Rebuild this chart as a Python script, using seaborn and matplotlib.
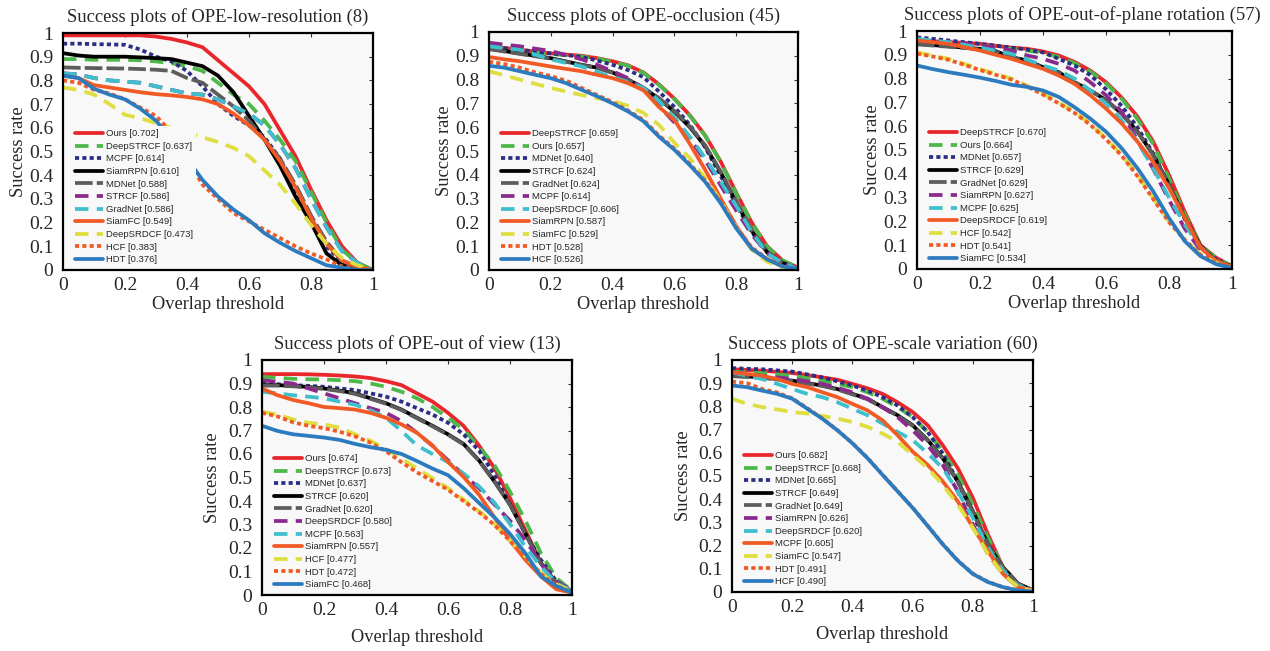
import matplotlib
matplotlib.use("Agg")
import matplotlib.pyplot as plt
import seaborn as sns

sns.set_theme(style="white")
plt.rcParams['font.family'] = ['Liberation Serif', 'DejaVu Serif']

# ---------------- data ----------------
THRESHOLDS = [0.00, 0.05, 0.10, 0.15, 0.20, 0.25, 0.30, 0.35, 0.40, 0.45, 0.50,
              0.55, 0.60, 0.65, 0.70, 0.75, 0.80, 0.85, 0.90, 0.95, 1.00]
Y_TICKS = [0, 0.1, 0.2, 0.3, 0.4, 0.5, 0.6, 0.7, 0.8, 0.9, 1.0]
Y_TICK_LABELS = ['0', '0.1', '0.2', '0.3', '0.4', '0.5', '0.6', '0.7', '0.8', '0.9', '1']
X_TICKS = [0, 0.2, 0.4, 0.6, 0.8, 1.0]
X_TICK_LABELS = ['0', '0.2', '0.4', '0.6', '0.8', '1']

# Panel 1: low-resolution
LR_TITLE = "Success plots of OPE-low-resolution (8)"
LR_NAMES = ["Ours", "DeepSTRCF", "MCPF", "SiamRPN", "MDNet", "STRCF", "GradNet",
            "SiamFC", "DeepSRDCF", "HCF", "HDT"]
LR_SCORES = [0.702, 0.637, 0.614, 0.610, 0.588, 0.586, 0.586, 0.549, 0.473, 0.383, 0.376]
LR_OURS = [0.99, 0.99, 0.99, 0.99, 0.99, 0.99, 0.985, 0.975, 0.96, 0.94, 0.885, 0.83, 0.775, 0.70, 0.59, 0.48, 0.34, 0.21, 0.10, 0.03, 0.0]
LR_DEEPSTRCF = [0.89, 0.89, 0.887, 0.887, 0.887, 0.885, 0.88, 0.873, 0.86, 0.84, 0.79, 0.74, 0.70, 0.63, 0.55, 0.46, 0.33, 0.20, 0.085, 0.03, 0.0]
LR_MCPF = [0.955, 0.955, 0.953, 0.952, 0.95, 0.93, 0.90, 0.88, 0.84, 0.775, 0.70, 0.65, 0.61, 0.56, 0.47, 0.34, 0.20, 0.10, 0.03, 0.01, 0.0]
LR_SIAMRPN = [0.915, 0.905, 0.90, 0.90, 0.90, 0.897, 0.894, 0.89, 0.875, 0.86, 0.82, 0.75, 0.65, 0.55, 0.44, 0.31, 0.20, 0.07, 0.02, 0.01, 0.0]
LR_MDNET = [0.855, 0.853, 0.852, 0.851, 0.85, 0.848, 0.845, 0.84, 0.81, 0.79, 0.74, 0.69, 0.63, 0.55, 0.47, 0.36, 0.23, 0.12, 0.04, 0.01, 0.0]
LR_STRCF = [0.83, 0.825, 0.81, 0.80, 0.795, 0.79, 0.775, 0.76, 0.745, 0.74, 0.72, 0.69, 0.66, 0.61, 0.53, 0.43, 0.30, 0.18, 0.08, 0.03, 0.0]
LR_GRADNET = [0.83, 0.825, 0.81, 0.80, 0.795, 0.79, 0.775, 0.76, 0.745, 0.74, 0.72, 0.69, 0.66, 0.61, 0.53, 0.43, 0.30, 0.18, 0.08, 0.03, 0.0]
LR_SIAMFC = [0.82, 0.81, 0.78, 0.77, 0.76, 0.75, 0.742, 0.737, 0.73, 0.72, 0.70, 0.66, 0.61, 0.55, 0.46, 0.35, 0.22, 0.11, 0.04, 0.015, 0.0]
LR_DEEPSRDCF = [0.77, 0.76, 0.74, 0.70, 0.655, 0.64, 0.62, 0.60, 0.58, 0.56, 0.54, 0.515, 0.48, 0.42, 0.36, 0.28, 0.19, 0.11, 0.05, 0.02, 0.0]
LR_HCF = [0.80, 0.79, 0.76, 0.745, 0.72, 0.685, 0.65, 0.58, 0.47, 0.36, 0.30, 0.24, 0.205, 0.17, 0.135, 0.10, 0.07, 0.045, 0.015, 0.005, 0.0]
LR_HDT = [0.82, 0.81, 0.765, 0.74, 0.72, 0.68, 0.63, 0.55, 0.47, 0.38, 0.31, 0.255, 0.21, 0.155, 0.115, 0.08, 0.05, 0.02, 0.01, 0.0, 0.0]
LR_CURVES = [LR_OURS, LR_DEEPSTRCF, LR_MCPF, LR_SIAMRPN, LR_MDNET, LR_STRCF, LR_GRADNET,
             LR_SIAMFC, LR_DEEPSRDCF, LR_HCF, LR_HDT]

# Panel 2: occlusion
OCC_TITLE = "Success plots of OPE-occlusion (45)"
OCC_NAMES = ["DeepSTRCF", "Ours", "MDNet", "STRCF", "GradNet", "MCPF", "DeepSRDCF",
             "SiamRPN", "SiamFC", "HDT", "HCF"]
OCC_SCORES = [0.659, 0.657, 0.640, 0.624, 0.624, 0.614, 0.606, 0.587, 0.529, 0.528, 0.526]
OCC_DEEPSTRCF = [0.94, 0.933, 0.925, 0.918, 0.91, 0.905, 0.90, 0.89, 0.877, 0.86, 0.83, 0.78, 0.72, 0.65, 0.565, 0.455, 0.325, 0.20, 0.10, 0.04, 0.01]
OCC_OURS = [0.935, 0.928, 0.922, 0.915, 0.908, 0.902, 0.897, 0.888, 0.875, 0.858, 0.828, 0.778, 0.718, 0.648, 0.563, 0.453, 0.323, 0.198, 0.098, 0.04, 0.01]
OCC_MDNET = [0.94, 0.932, 0.925, 0.918, 0.91, 0.903, 0.895, 0.88, 0.862, 0.84, 0.81, 0.75, 0.685, 0.61, 0.515, 0.395, 0.275, 0.16, 0.075, 0.03, 0.005]
OCC_STRCF = [0.93, 0.92, 0.91, 0.90, 0.89, 0.876, 0.862, 0.85, 0.83, 0.80, 0.765, 0.72, 0.665, 0.60, 0.52, 0.41, 0.285, 0.165, 0.075, 0.03, 0.005]
OCC_GRADNET = [0.928, 0.918, 0.908, 0.898, 0.888, 0.875, 0.861, 0.849, 0.829, 0.80, 0.766, 0.722, 0.668, 0.603, 0.523, 0.413, 0.288, 0.168, 0.077, 0.031, 0.005]
OCC_MCPF = [0.955, 0.947, 0.94, 0.93, 0.92, 0.903, 0.885, 0.862, 0.835, 0.806, 0.76, 0.69, 0.62, 0.55, 0.46, 0.355, 0.25, 0.15, 0.07, 0.03, 0.005]
OCC_DEEPSRDCF = [0.94, 0.932, 0.925, 0.905, 0.885, 0.87, 0.855, 0.832, 0.81, 0.79, 0.765, 0.71, 0.64, 0.56, 0.47, 0.37, 0.27, 0.16, 0.07, 0.03, 0.005]
OCC_SIAMRPN = [0.895, 0.885, 0.877, 0.866, 0.855, 0.845, 0.835, 0.82, 0.806, 0.785, 0.755, 0.685, 0.63, 0.53, 0.42, 0.30, 0.185, 0.09, 0.045, 0.015, 0.0]
OCC_SIAMFC = [0.835, 0.818, 0.80, 0.782, 0.765, 0.75, 0.735, 0.722, 0.71, 0.69, 0.66, 0.61, 0.535, 0.47, 0.385, 0.29, 0.18, 0.085, 0.035, 0.01, 0.0]
OCC_HDT = [0.875, 0.865, 0.85, 0.83, 0.815, 0.795, 0.765, 0.735, 0.705, 0.67, 0.63, 0.565, 0.51, 0.445, 0.375, 0.285, 0.18, 0.095, 0.047, 0.016, 0.005]
OCC_HCF = [0.858, 0.85, 0.835, 0.82, 0.806, 0.785, 0.757, 0.73, 0.70, 0.666, 0.625, 0.56, 0.505, 0.44, 0.37, 0.28, 0.175, 0.09, 0.045, 0.015, 0.005]
OCC_CURVES = [OCC_DEEPSTRCF, OCC_OURS, OCC_MDNET, OCC_STRCF, OCC_GRADNET, OCC_MCPF,
              OCC_DEEPSRDCF, OCC_SIAMRPN, OCC_SIAMFC, OCC_HDT, OCC_HCF]

# Panel 3: out-of-plane rotation
OPR_TITLE = "Success plots of OPE-out-of-plane rotation (57)"
OPR_NAMES = ["DeepSTRCF", "Ours", "MDNet", "STRCF", "GradNet", "SiamRPN", "MCPF",
             "DeepSRDCF", "HCF", "HDT", "SiamFC"]
OPR_SCORES = [0.670, 0.664, 0.657, 0.629, 0.629, 0.627, 0.625, 0.619, 0.542, 0.541, 0.534]
OPR_DEEPSTRCF = [0.96, 0.957, 0.953, 0.95, 0.946, 0.938, 0.93, 0.925, 0.914, 0.897, 0.87, 0.834, 0.785, 0.72, 0.64, 0.535, 0.395, 0.24, 0.10, 0.047, 0.012]
OPR_OURS = [0.955, 0.952, 0.948, 0.945, 0.94, 0.933, 0.925, 0.918, 0.908, 0.89, 0.865, 0.83, 0.78, 0.715, 0.63, 0.525, 0.38, 0.23, 0.10, 0.045, 0.012]
OPR_MDNET = [0.973, 0.967, 0.96, 0.953, 0.946, 0.938, 0.93, 0.922, 0.91, 0.883, 0.855, 0.815, 0.755, 0.685, 0.595, 0.485, 0.35, 0.21, 0.09, 0.04, 0.01]
OPR_STRCF = [0.946, 0.941, 0.936, 0.93, 0.925, 0.915, 0.89, 0.876, 0.848, 0.827, 0.785, 0.75, 0.71, 0.653, 0.577, 0.48, 0.354, 0.215, 0.096, 0.033, 0.01]
OPR_GRADNET = [0.944, 0.939, 0.934, 0.929, 0.923, 0.913, 0.888, 0.874, 0.846, 0.825, 0.784, 0.749, 0.709, 0.652, 0.576, 0.479, 0.353, 0.214, 0.095, 0.033, 0.01]
OPR_SIAMRPN = [0.96, 0.956, 0.953, 0.947, 0.94, 0.93, 0.918, 0.897, 0.883, 0.862, 0.834, 0.785, 0.73, 0.66, 0.54, 0.42, 0.29, 0.17, 0.08, 0.027, 0.005]
OPR_MCPF = [0.967, 0.96, 0.953, 0.942, 0.93, 0.917, 0.904, 0.88, 0.855, 0.834, 0.80, 0.75, 0.695, 0.625, 0.535, 0.423, 0.30, 0.187, 0.09, 0.033, 0.01]
OPR_DEEPSRDCF = [0.96, 0.953, 0.946, 0.932, 0.918, 0.90, 0.883, 0.862, 0.841, 0.813, 0.778, 0.73, 0.674, 0.611, 0.535, 0.45, 0.34, 0.215, 0.09, 0.033, 0.01]
OPR_HCF = [0.91, 0.897, 0.883, 0.862, 0.84, 0.82, 0.80, 0.77, 0.737, 0.70, 0.66, 0.61, 0.549, 0.48, 0.395, 0.298, 0.20, 0.124, 0.061, 0.026, 0.005]
OPR_HDT = [0.905, 0.893, 0.879, 0.858, 0.836, 0.816, 0.796, 0.766, 0.733, 0.696, 0.656, 0.606, 0.545, 0.476, 0.39, 0.294, 0.197, 0.122, 0.06, 0.025, 0.005]
OPR_SIAMFC = [0.855, 0.84, 0.827, 0.816, 0.804, 0.79, 0.774, 0.765, 0.75, 0.723, 0.68, 0.632, 0.577, 0.507, 0.423, 0.326, 0.214, 0.117, 0.054, 0.02, 0.005]
OPR_CURVES = [OPR_DEEPSTRCF, OPR_OURS, OPR_MDNET, OPR_STRCF, OPR_GRADNET, OPR_SIAMRPN,
              OPR_MCPF, OPR_DEEPSRDCF, OPR_HCF, OPR_HDT, OPR_SIAMFC]

# Panel 4: out of view
OV_TITLE = "Success plots of OPE-out of view (13)"
OV_NAMES = ["Ours", "DeepSTRCF", "MDNet", "STRCF", "GradNet", "DeepSRDCF", "MCPF",
            "SiamRPN", "HCF", "HDT", "SiamFC"]
OV_SCORES = [0.674, 0.673, 0.637, 0.620, 0.620, 0.580, 0.563, 0.557, 0.477, 0.472, 0.468]
OV_OURS = [0.94, 0.94, 0.94, 0.939, 0.937, 0.934, 0.93, 0.923, 0.91, 0.893, 0.858, 0.823, 0.775, 0.72, 0.636, 0.54, 0.413, 0.274, 0.135, 0.05, 0.017]
OV_DEEPSTRCF = [0.928, 0.924, 0.92, 0.918, 0.917, 0.914, 0.91, 0.90, 0.886, 0.865, 0.837, 0.80, 0.754, 0.705, 0.63, 0.552, 0.44, 0.316, 0.177, 0.072, 0.017]
OV_MDNET = [0.90, 0.897, 0.893, 0.89, 0.886, 0.879, 0.872, 0.858, 0.844, 0.823, 0.795, 0.768, 0.733, 0.684, 0.615, 0.51, 0.385, 0.26, 0.149, 0.058, 0.017]
OV_STRCF = [0.893, 0.893, 0.89, 0.885, 0.879, 0.87, 0.858, 0.837, 0.816, 0.789, 0.754, 0.72, 0.684, 0.643, 0.573, 0.483, 0.385, 0.26, 0.135, 0.05, 0.017]
OV_GRADNET = [0.891, 0.891, 0.888, 0.883, 0.877, 0.868, 0.856, 0.835, 0.814, 0.787, 0.752, 0.718, 0.682, 0.641, 0.571, 0.482, 0.384, 0.259, 0.134, 0.05, 0.017]
OV_DEEPSRDCF = [0.914, 0.907, 0.90, 0.879, 0.858, 0.837, 0.816, 0.795, 0.775, 0.74, 0.69, 0.635, 0.573, 0.51, 0.455, 0.385, 0.316, 0.232, 0.135, 0.058, 0.017]
OV_MCPF = [0.865, 0.858, 0.85, 0.844, 0.837, 0.823, 0.81, 0.786, 0.754, 0.698, 0.636, 0.60, 0.566, 0.517, 0.462, 0.392, 0.302, 0.204, 0.121, 0.05, 0.017]
OV_SIAMRPN = [0.879, 0.85, 0.83, 0.816, 0.80, 0.795, 0.789, 0.775, 0.754, 0.726, 0.69, 0.636, 0.566, 0.503, 0.427, 0.33, 0.232, 0.149, 0.079, 0.024, 0.01]
OV_HCF = [0.78, 0.768, 0.747, 0.733, 0.726, 0.712, 0.684, 0.656, 0.622, 0.58, 0.538, 0.497, 0.455, 0.406, 0.357, 0.302, 0.232, 0.163, 0.093, 0.045, 0.017]
OV_HDT = [0.775, 0.76, 0.735, 0.72, 0.71, 0.695, 0.675, 0.648, 0.612, 0.565, 0.522, 0.485, 0.448, 0.40, 0.352, 0.298, 0.23, 0.16, 0.09, 0.04, 0.012]
OV_SIAMFC = [0.72, 0.698, 0.684, 0.677, 0.67, 0.66, 0.643, 0.629, 0.618, 0.6, 0.57, 0.538, 0.51, 0.455, 0.392, 0.33, 0.26, 0.177, 0.079, 0.038, 0.01]
OV_CURVES = [OV_OURS, OV_DEEPSTRCF, OV_MDNET, OV_STRCF, OV_GRADNET, OV_DEEPSRDCF,
             OV_MCPF, OV_SIAMRPN, OV_HCF, OV_HDT, OV_SIAMFC]

# Panel 5: scale variation
SV_TITLE = "Success plots of OPE-scale variation (60)"
SV_NAMES = ["Ours", "DeepSTRCF", "MDNet", "STRCF", "GradNet", "SiamRPN", "DeepSRDCF",
            "MCPF", "SiamFC", "HDT", "HCF"]
SV_SCORES = [0.682, 0.668, 0.665, 0.649, 0.649, 0.626, 0.620, 0.605, 0.547, 0.491, 0.490]
SV_OURS = [0.96, 0.957, 0.954, 0.949, 0.944, 0.935, 0.925, 0.915, 0.897, 0.878, 0.854, 0.818, 0.776, 0.719, 0.633, 0.534, 0.406, 0.249, 0.107, 0.036, 0.005]
SV_DEEPSTRCF = [0.95, 0.947, 0.944, 0.938, 0.932, 0.922, 0.911, 0.897, 0.883, 0.861, 0.833, 0.797, 0.754, 0.69, 0.605, 0.505, 0.377, 0.235, 0.107, 0.036, 0.005]
SV_MDNET = [0.965, 0.962, 0.96, 0.955, 0.95, 0.938, 0.925, 0.908, 0.89, 0.868, 0.84, 0.804, 0.754, 0.69, 0.598, 0.477, 0.335, 0.192, 0.093, 0.028, 0.005]
SV_STRCF = [0.932, 0.929, 0.925, 0.918, 0.911, 0.90, 0.89, 0.875, 0.854, 0.833, 0.797, 0.762, 0.719, 0.655, 0.577, 0.477, 0.349, 0.206, 0.107, 0.036, 0.007]
SV_GRADNET = [0.93, 0.927, 0.923, 0.916, 0.909, 0.898, 0.888, 0.873, 0.852, 0.831, 0.795, 0.76, 0.717, 0.653, 0.575, 0.476, 0.348, 0.205, 0.106, 0.036, 0.007]
SV_SIAMRPN = [0.947, 0.94, 0.932, 0.925, 0.918, 0.908, 0.897, 0.88, 0.861, 0.833, 0.797, 0.754, 0.697, 0.633, 0.548, 0.434, 0.292, 0.164, 0.078, 0.021, 0.005]
SV_DEEPSRDCF = [0.947, 0.932, 0.918, 0.897, 0.875, 0.854, 0.84, 0.818, 0.79, 0.762, 0.726, 0.69, 0.655, 0.598, 0.534, 0.434, 0.32, 0.192, 0.093, 0.028, 0.005]
SV_MCPF = [0.947, 0.94, 0.932, 0.918, 0.897, 0.883, 0.861, 0.84, 0.811, 0.783, 0.74, 0.676, 0.605, 0.548, 0.477, 0.391, 0.278, 0.178, 0.078, 0.021, 0.005]
SV_SIAMFC = [0.833, 0.811, 0.797, 0.787, 0.776, 0.769, 0.759, 0.747, 0.733, 0.712, 0.683, 0.648, 0.591, 0.534, 0.463, 0.377, 0.278, 0.164, 0.078, 0.021, 0.005]
SV_HDT = [0.907, 0.90, 0.875, 0.86, 0.835, 0.792, 0.748, 0.698, 0.642, 0.578, 0.506, 0.435, 0.364, 0.286, 0.207, 0.136, 0.079, 0.044, 0.021, 0.007, 0.002]
SV_HCF = [0.89, 0.883, 0.868, 0.854, 0.833, 0.79, 0.747, 0.697, 0.641, 0.577, 0.505, 0.434, 0.363, 0.285, 0.206, 0.135, 0.078, 0.043, 0.021, 0.007, 0.002]
SV_CURVES = [SV_OURS, SV_DEEPSTRCF, SV_MDNET, SV_STRCF, SV_GRADNET, SV_SIAMRPN,
             SV_DEEPSRDCF, SV_MCPF, SV_SIAMFC, SV_HDT, SV_HCF]

# ---------------- styles (by rank) ----------------
RANK_COLORS = ['#e8262b', '#4cb84a', '#2b2e83', '#000000', '#5c5c5c', '#8b2a8c',
               '#3ebfcc', '#f15a24', '#dede40', '#f15a24', '#2c7bbf']
DASH_LONG = (0, (3.6, 2.2))
DASH_GRAY = (0, (4.7, 1.1))
DOTS = (0, (1.1, 0.85))
RANK_STYLES = ['-', DASH_LONG, DOTS, '-', DASH_GRAY, DASH_LONG, DASH_LONG, '-',
               DASH_LONG, DOTS, '-']
LW = 2.7

W, H = 1270, 651
fig = plt.figure(figsize=(W / 100, H / 100), dpi=100)
fig.patch.set_facecolor('white')

# (left, top, right, bottom) in pixels, ylabel offset, xlabel offset, title x, opaque legend
PANELS = [
    (LR_TITLE, LR_NAMES, LR_SCORES, LR_CURVES, (63, 33, 373, 270), 27, 26, 0.5, True),
    (OCC_TITLE, OCC_NAMES, OCC_SCORES, OCC_CURVES, (489, 32, 798, 270), 27, 26, 0.5, True),
    (OPR_TITLE, OPR_NAMES, OPR_SCORES, OPR_CURVES, (917, 31, 1232, 269), 27, 26, 0.525, True),
    (OV_TITLE, OV_NAMES, OV_SCORES, OV_CURVES, (262, 360, 572, 595), 32, 34, 0.5, False),
    (SV_TITLE, SV_NAMES, SV_SCORES, SV_CURVES, (732, 360, 1033, 592), 31, 34, 0.5, False),
]

for title, names, scores, curves, (l, t, r, b), ylab_off, xlab_off, tx, opaque in PANELS:
    ax = fig.add_axes([l / W, 1 - b / H, (r - l) / W, (b - t) / H])
    ax.set_facecolor('#f8f8f8')
    handles, labels = [], []
    for i, (name, score, ys) in enumerate(zip(names, scores, curves)):
        sns.lineplot(x=THRESHOLDS, y=ys, ax=ax, color=RANK_COLORS[i],
                     linestyle=RANK_STYLES[i], linewidth=LW, legend=False,
                     estimator=None, sort=False)
        handles.append(ax.lines[-1])
        labels.append(f"{name} [{score:.3f}]")
    ax.set_xlim(0, 1)
    ax.set_ylim(0, 1)
    ax.set_xticks(X_TICKS)
    ax.set_xticklabels(X_TICK_LABELS)
    ax.set_yticks(Y_TICKS)
    ax.set_yticklabels(Y_TICK_LABELS)
    ax.tick_params(axis='both', direction='in', length=3, width=0.8, color='#333333',
                   top=True, right=True, labelsize=14)
    ax.tick_params(axis='y', pad=7)
    ax.tick_params(axis='x', pad=5)
    for sp in ax.spines.values():
        sp.set_color('black')
        sp.set_linewidth(1.6)
    ax.set_xlabel("Overlap threshold", fontsize=13.2)
    ax.set_ylabel("Success rate", fontsize=13.2)
    pw, ph = r - l, b - t
    ax.yaxis.set_label_coords(-ylab_off / pw - 9 / pw, 0.5)
    ax.xaxis.set_label_coords(0.5, -xlab_off / ph)
    ax.set_title(title, fontsize=13.4, pad=8, x=tx)
    leg = ax.legend(handles, labels, loc='lower left',
                    bbox_to_anchor=(9 / pw, 3 / ph), borderaxespad=0,
                    prop={'family': 'Liberation Sans', 'size': 6.8},
                    handlelength=3.0, handletextpad=0.3, labelspacing=0.38,
                    borderpad=0.3, frameon=True, fancybox=False)
    leg.get_frame().set_facecolor('#f8f8f8')
    leg.get_frame().set_edgecolor('none')
    leg.get_frame().set_alpha(1.0 if opaque else 0.0)

fig.savefig("out.png", dpi=100, facecolor='white')
